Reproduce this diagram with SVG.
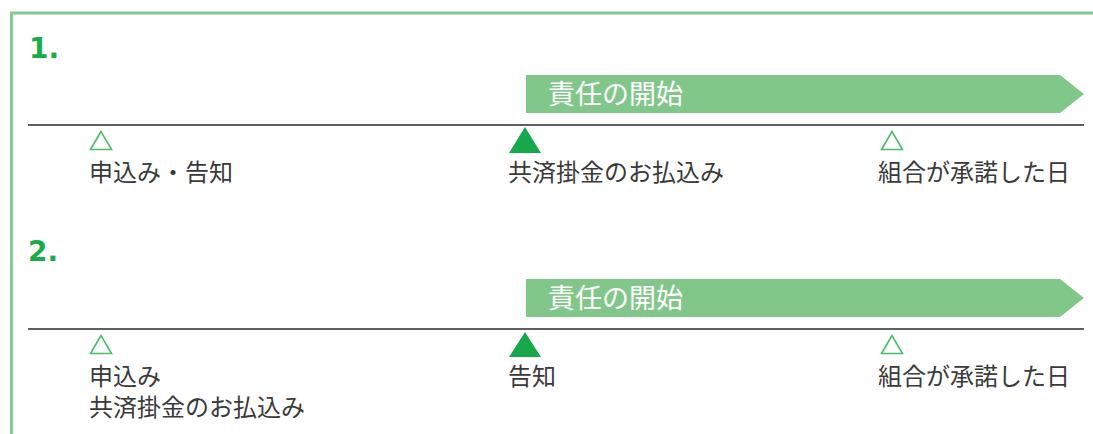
<svg xmlns="http://www.w3.org/2000/svg" width="1093" height="434" viewBox="0 0 1093 434">
<style>
.lbl{font-family:"Noto Sans CJK JP","Noto Sans CJK SC",sans-serif;font-size:24px;fill:#3a3a3a}
.num{font-family:"DejaVu Sans","Liberation Sans",sans-serif;font-size:28px;font-weight:bold;fill:#1aab4b}
.ban{fill:#82c78a}
.bantxt{font-family:"Noto Sans CJK JP","Noto Sans CJK SC",sans-serif;font-size:27px;fill:#ffffff}
.axis{stroke:#2a2a2a;stroke-width:1.5;fill:none}
.hollow{fill:none;stroke:#4cbc6a;stroke-width:1.6}
.solid{fill:#17a84b}
</style>
<g id="frame">
<path d="M11.5 434 V13 H1093" fill="none" stroke="#7dcb8e" stroke-width="2.8"/>
</g>
<g id="section1">
<text class="num" x="29" y="58">1.</text>
<g id="banner1"><polygon class="ban" points="526,75 1060,75 1084,94 1060,113 526,113"/><text class="bantxt" x="548" y="104">責任の開始</text></g>
<line class="axis" x1="28" y1="125" x2="1084" y2="125"/>
<g id="s1-apply"><polygon class="hollow" points="101,131.5 90.5,149.5 111.5,149.5"/><text class="lbl" x="89" y="181">申込み・告知</text></g>
<g id="s1-pay"><polygon class="solid" points="525,127 509,153 541,153"/><text class="lbl" x="508" y="181">共済掛金のお払込み</text></g>
<g id="s1-accept"><polygon class="hollow" points="892,131.5 881.5,149.5 902.5,149.5"/><text class="lbl" x="878" y="181">組合が承諾した日</text></g>
</g>
<g id="section2">
<text class="num" x="28" y="261">2.</text>
<g id="banner2"><polygon class="ban" points="526,279 1060,279 1084,298 1060,317 526,317"/><text class="bantxt" x="548" y="308">責任の開始</text></g>
<line class="axis" x1="28" y1="329" x2="1084" y2="329"/>
<g id="s2-apply"><polygon class="hollow" points="101,335.5 90.5,353.5 111.5,353.5"/><text class="lbl" x="89" y="385">申込み</text><text class="lbl" x="89" y="416">共済掛金のお払込み</text></g>
<g id="s2-notice"><polygon class="solid" points="525,332 509,357 541,357"/><text class="lbl" x="508" y="385">告知</text></g>
<g id="s2-accept"><polygon class="hollow" points="892,335.5 881.5,353.5 902.5,353.5"/><text class="lbl" x="878" y="385">組合が承諾した日</text></g>
</g>
<g id="connectors"/>
</svg>
